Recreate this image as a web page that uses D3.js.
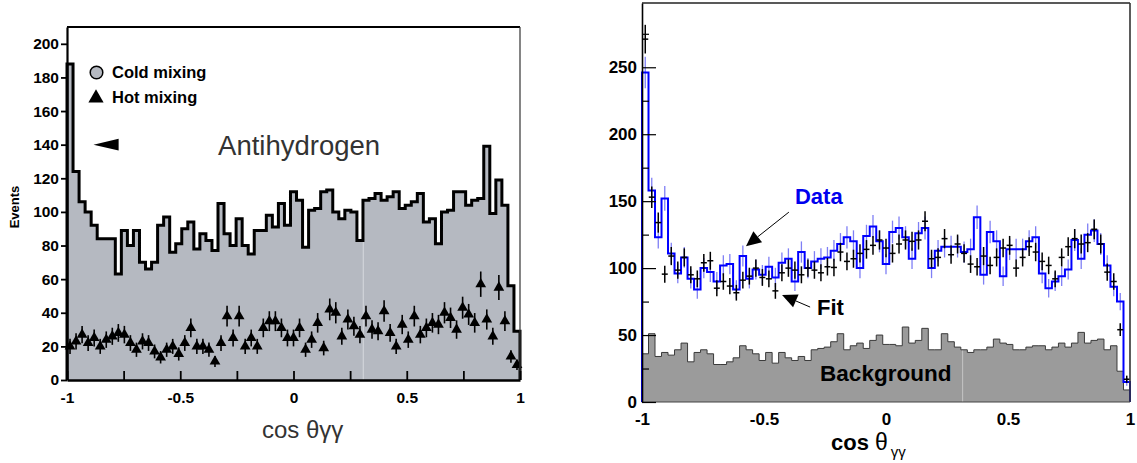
<!DOCTYPE html>
<html>
<head>
<meta charset="utf-8">
<script src="https://cdn.jsdelivr.net/npm/d3@7"></script>
<style>
  body { margin: 0; background: #fff; }
  svg { display: block; }
  text { font-family: "Liberation Sans", Arial, sans-serif; }
</style>
</head>
<body>
<svg id="chart" width="1137" height="463"></svg>
<script>
// ---- data (75 bins from cos = -1 to 1) ----
const coldMixing = [188,124,106,100,92,84,84,84,63,89,80,89,70,66,70,92,97,76,81,90,
  94,78,87,83,77,105,87,80,96,80,75,89,89,98,91,105,92,112,107,79,
  101,102,112,113,100,96,101,100,83,107,108,111,107,109,112,102,104,106,111,94,
  96,81,100,101,112,112,104,107,108,139,99,119,104,56,29];

const hotMixing = [20,23,27,22,25,20,24,26,28,27,22,18,23,22,17,13.5,18,20,15.5,22,
  31,20,20,18,11,22,38,25,38,20,25,20,31,35,35,31,25,25,31,18,
  24,34,19,42,40,26,36,32,27,38,30,29,41,28,20,33,24,38,27,31,
  34,33,40,37,30,43,39,34,57,36,26,55,35,14,9];

const dataCounts = [246,158,123,152,111,96,108,92,84,100,97,90,102,103,84,109,92,99,95,101,
  93,104,107,90,112,100,105,107,108,113,118,123,120,100,124,131,120,103,127,130,
  123,107,126,130,100,113,116,116,116,112,114,138,95,127,120,94,114,114,114,120,
  123,96,85,90,94,99,121,107,125,128,118,102,86,75,15];

const fitCounts = [271,153,134,95.5,109,98.5,108,95,92,104,105.5,85,90,86.6,81.6,91,94,100,93,92,
  83,96.5,100,98.5,95,100,98.5,96.5,101,100.5,112,105,107,111,114,117,121,115,111,118,
  121,120,121,135,107,108,122,110,118,111,103,101,109,102,108,115,117,100,108,116,
  112,105,102,92,108,116,122,118,119,129,118,97,90,54,17];

const bgCounts = [36,51,34,37,35,39,44,30,37,39,36,28,28,30,33,42,39,36,31,37,
  29,37,33,31,34,31,39,40,41,45,51,39,42,44,40,46,50,43,43,42,
  56,44,46,55,39,39,51,45,41,39,37,39,39,41,47,44,43,39,39,41,
  42,42,39,41,44,41,44,52,44,46,47,39,42,23,9];

const leftYTicks = [0,20,40,60,80,100,120,140,160,180,200];
const rightYMajor = [0,50,100,150,200,250];
const rightYMinor = [25,75,125,175,225,275];
const xMajor = [-1,-0.5,0,0.5,1];
const xTickLabels = ["-1","-0.5","0","0.5","1"];
const xQuarter = [-1,-0.75,-0.5,-0.25,0,0.25,0.5,0.75,1];

const nBins = coldMixing.length;
const edges = d3.range(nBins + 1).map(i => -1 + 2 * i / nBins);
const centers = d3.range(nBins).map(i => (edges[i] + edges[i + 1]) / 2);
const stepPts = vals => vals.map((v, i) => [edges[i], v]).concat([[1, vals[vals.length - 1]]]);

const svg = d3.select("#chart");
const fmt = d => xTickLabels[xMajor.indexOf(d)] ?? "";

// ================= LEFT PANEL =================
const xL = d3.scaleLinear().domain([-1, 1]).range([67, 520]);
const yL = d3.scaleLinear().domain([0, 210]).range([380, 27]);
const gL = svg.append("g");

const areaL = d3.area().curve(d3.curveStepAfter)
  .x(d => xL(d[0])).y0(yL(0)).y1(d => yL(d[1]));
gL.append("path").datum(stepPts(coldMixing))
  .attr("d", areaL).attr("fill", "#b5b9c1");

// faint scan artefact line
gL.append("line")
  .attr("x1", xL(0.308)).attr("x2", xL(0.308))
  .attr("y1", yL(0)).attr("y2", yL(coldMixing[49]))
  .attr("stroke", "#d6d9de").attr("stroke-width", 1);

const lineL = d3.line().curve(d3.curveStepAfter).x(d => xL(d[0])).y(d => yL(d[1]));
gL.append("path").datum([[-1, 0]].concat(stepPts(coldMixing), [[1, 0]]))
  .attr("d", lineL).attr("fill", "none")
  .attr("stroke", "#000").attr("stroke-width", 3).attr("stroke-linejoin", "miter");

// hot mixing triangles with error bars
const hot = gL.append("g").selectAll("g").data(hotMixing).enter().append("g");
hot.append("line")
  .attr("x1", (d, i) => xL(centers[i])).attr("x2", (d, i) => xL(centers[i]))
  .attr("y1", d => yL(d - Math.sqrt(d))).attr("y2", d => yL(d + Math.sqrt(d)))
  .attr("stroke", "#000").attr("stroke-width", 1.6);
hot.append("path")
  .attr("d", d3.symbol(d3.symbolTriangle, 50))
  .attr("transform", (d, i) => `translate(${xL(centers[i])},${yL(d)})`)
  .attr("fill", "#000");

// frame
gL.append("line").attr("x1", xL(-1)).attr("x2", xL(1)).attr("y1", yL(210)).attr("y2", yL(210))
  .attr("stroke", "#000").attr("stroke-width", 1.8);
gL.append("line").attr("x1", xL(1)).attr("x2", xL(1)).attr("y1", yL(210)).attr("y2", yL(0))
  .attr("stroke", "#333").attr("stroke-width", 1.2);

// axes
const yAxisL = gL.append("g").attr("transform", `translate(${xL(-1)},0)`)
  .call(d3.axisLeft(yL).tickValues(leftYTicks).tickSize(6).tickPadding(2).tickSizeOuter(0));
yAxisL.select(".domain").attr("stroke-width", 2.2);
yAxisL.selectAll(".tick line").attr("stroke-width", 1.8);
yAxisL.selectAll("text").attr("font-size", 15.5).attr("font-weight", "bold").attr("fill", "#000")
  .attr("font-family", "'Liberation Sans', Arial, sans-serif");

const xAxisL = gL.append("g").attr("transform", `translate(0,${yL(0)})`)
  .call(d3.axisBottom(xL).tickValues(xQuarter).tickFormat(fmt).tickSize(-9).tickPadding(12).tickSizeOuter(0));
xAxisL.select(".domain").attr("stroke-width", 2.4);
xAxisL.selectAll(".tick line").attr("stroke-width", 1.8);
xAxisL.selectAll("text").attr("font-size", 15.5).attr("font-weight", "bold").attr("fill", "#000")
  .attr("font-family", "'Liberation Sans', Arial, sans-serif");

// labels
gL.append("text").attr("transform", "translate(19,207) rotate(-90)")
  .attr("text-anchor", "middle").attr("font-size", 13).attr("font-weight", "bold")
  .text("Events");
gL.append("text").attr("x", 262).attr("y", 438)
  .attr("font-size", 24).attr("fill", "#333")
  .text("cos θγγ");
gL.append("text").attr("x", xL(-0.333)).attr("y", yL(134))
  .attr("font-size", 27.5).attr("fill", "#333")
  .text("Antihydrogen");

// pointer
gL.append("path")
  .attr("d", `M${xL(-0.883)},${yL(140)} L${xL(-0.772)},${yL(143.5)} L${xL(-0.772)},${yL(136.5)} Z`)
  .attr("fill", "#000");

// legend
gL.append("circle").attr("cx", 96.5).attr("cy", 72.5).attr("r", 6.3)
  .attr("fill", "#b5b9c1").attr("stroke", "#000").attr("stroke-width", 1.5);
gL.append("text").attr("x", 112).attr("y", 78).attr("font-size", 16.5).attr("font-weight", "bold")
  .text("Cold mixing");
gL.append("path").attr("d", d3.symbol(d3.symbolTriangle, 100))
  .attr("transform", "translate(96,98)").attr("fill", "#000");
gL.append("text").attr("x", 112).attr("y", 103).attr("font-size", 16.5).attr("font-weight", "bold")
  .text("Hot mixing");

// ================= RIGHT PANEL =================
const xR = d3.scaleLinear().domain([-1, 1]).range([642, 1130]);
const yR = d3.scaleLinear().domain([0, 298]).range([402, 3]);
const gR = svg.append("g");

const areaR = d3.area().curve(d3.curveStepAfter)
  .x(d => xR(d[0])).y0(yR(0)).y1(d => yR(d[1]));
gR.append("path").datum(stepPts(bgCounts)).attr("d", areaR).attr("fill", "#9b9b9b");
gR.append("line")
  .attr("x1", xR(0.314)).attr("x2", xR(0.314))
  .attr("y1", yR(0)).attr("y2", yR(bgCounts[49]))
  .attr("stroke", "#c4c4c4").attr("stroke-width", 1);

const lineR = d3.line().curve(d3.curveStepAfter).x(d => xR(d[0])).y(d => yR(d[1]));
gR.append("path").datum(stepPts(bgCounts)).attr("d", lineR)
  .attr("fill", "none").attr("stroke", "#3a3a3a").attr("stroke-width", 1);

// data error bars (light blue)
gR.append("g").selectAll("line").data(dataCounts).enter().append("line")
  .attr("x1", (d, i) => xR(centers[i])).attr("x2", (d, i) => xR(centers[i]))
  .attr("y1", d => yR(d - 0.75 * Math.sqrt(d))).attr("y2", d => yR(d + 0.75 * Math.sqrt(d)))
  .attr("stroke", "#7f7ff5").attr("stroke-width", 1.3);

// data histogram (blue)
gR.append("path").datum([[-1, 0]].concat(stepPts(dataCounts), [[1, 0]]))
  .attr("d", lineR).attr("fill", "none")
  .attr("stroke", "#0000ff").attr("stroke-width", 2);

// fit crosses (black)
const fit = gR.append("g").selectAll("g").data(fitCounts).enter().append("g");
fit.append("line")
  .attr("x1", (d, i) => xR(centers[i])).attr("x2", (d, i) => xR(centers[i]))
  .attr("y1", d => yR(d - 0.65 * Math.sqrt(d))).attr("y2", d => yR(d + 0.65 * Math.sqrt(d)))
  .attr("stroke", "#000").attr("stroke-width", 1.5);
fit.append("line")
  .attr("x1", (d, i) => xR(centers[i]) - 3).attr("x2", (d, i) => xR(centers[i]) + 3)
  .attr("y1", d => yR(d)).attr("y2", d => yR(d))
  .attr("stroke", "#000").attr("stroke-width", 1.5);

// frame
gR.append("line").attr("x1", xR(-1)).attr("x2", xR(1)).attr("y1", yR(298)).attr("y2", yR(298))
  .attr("stroke", "#222").attr("stroke-width", 1.4);
gR.append("line").attr("x1", xR(1)).attr("x2", xR(1)).attr("y1", yR(298)).attr("y2", yR(0))
  .attr("stroke", "#333").attr("stroke-width", 1.6);
gR.append("line").attr("x1", xR(-1)).attr("x2", xR(1)).attr("y1", yR(0)).attr("y2", yR(0))
  .attr("stroke", "#444").attr("stroke-width", 1.2);

const yAxisR = gR.append("g").attr("transform", `translate(${xR(-1)},0)`)
  .call(d3.axisLeft(yR).tickValues(rightYMajor).tickSize(-14).tickPadding(5).tickSizeOuter(0));
yAxisR.select(".domain").attr("stroke-width", 1.6);
yAxisR.selectAll(".tick line").attr("stroke-width", 1.2);
yAxisR.selectAll("text").attr("font-size", 17).attr("font-weight", "bold").attr("fill", "#000")
  .attr("font-family", "'Liberation Sans', Arial, sans-serif");
gR.append("g").attr("transform", `translate(${xR(-1)},0)`)
  .call(d3.axisLeft(yR).tickValues(rightYMinor).tickSize(-7).tickFormat("").tickSizeOuter(0))
  .call(g => g.select(".domain").remove())
  .selectAll(".tick line").attr("stroke-width", 1.2);

const xAxisR = gR.append("g").attr("transform", `translate(0,${yR(0)})`)
  .call(d3.axisBottom(xR).tickValues(xMajor).tickFormat(fmt).tickSize(0).tickPadding(11).tickSizeOuter(0));
xAxisR.select(".domain").remove();
xAxisR.selectAll("text").attr("font-size", 17).attr("font-weight", "bold").attr("fill", "#000")
  .attr("font-family", "'Liberation Sans', Arial, sans-serif");

// axis title
const tR = gR.append("text").attr("x", 831).attr("y", 450)
  .attr("font-size", 22).attr("font-weight", "bold");
tR.append("tspan").text("cos ");
tR.append("tspan").attr("font-weight", "normal").attr("font-size", 23).text("θ");
tR.append("tspan").attr("font-weight", "normal").attr("font-size", 15).attr("dx", 3).attr("dy", 7).text("γγ");

// annotations
const arrow = (g, x1, y1, x2, y2, head, half) => {
  const a = Math.atan2(y2 - y1, x2 - x1);
  const bx = x2 - head * Math.cos(a), by = y2 - head * Math.sin(a);
  g.append("line").attr("x1", x1).attr("y1", y1).attr("x2", bx).attr("y2", by)
    .attr("stroke", "#000").attr("stroke-width", 1);
  g.append("path")
    .attr("d", `M${x2},${y2} L${bx - half * Math.sin(a)},${by + half * Math.cos(a)} L${bx + half * Math.sin(a)},${by - half * Math.cos(a)} Z`)
    .attr("fill", "#000");
};
arrow(gR, xR(-0.398), yR(141.8), xR(-0.574), yR(116.4), 15, 7);
arrow(gR, xR(-0.311), yR(70.9), xR(-0.426), yR(79.9), 15, 7);

gR.append("text").attr("x", xR(-0.373)).attr("y", yR(147.8))
  .attr("font-size", 22).attr("font-weight", "bold").attr("fill", "#0000ee").text("Data");
gR.append("text").attr("x", xR(-0.283)).attr("y", yR(65))
  .attr("font-size", 22).attr("font-weight", "bold").text("Fit");
gR.append("text").attr("x", xR(-0.27)).attr("y", yR(15.7))
  .attr("font-size", 22.5).attr("font-weight", "bold").text("Background");
</script>
</body>
</html>
